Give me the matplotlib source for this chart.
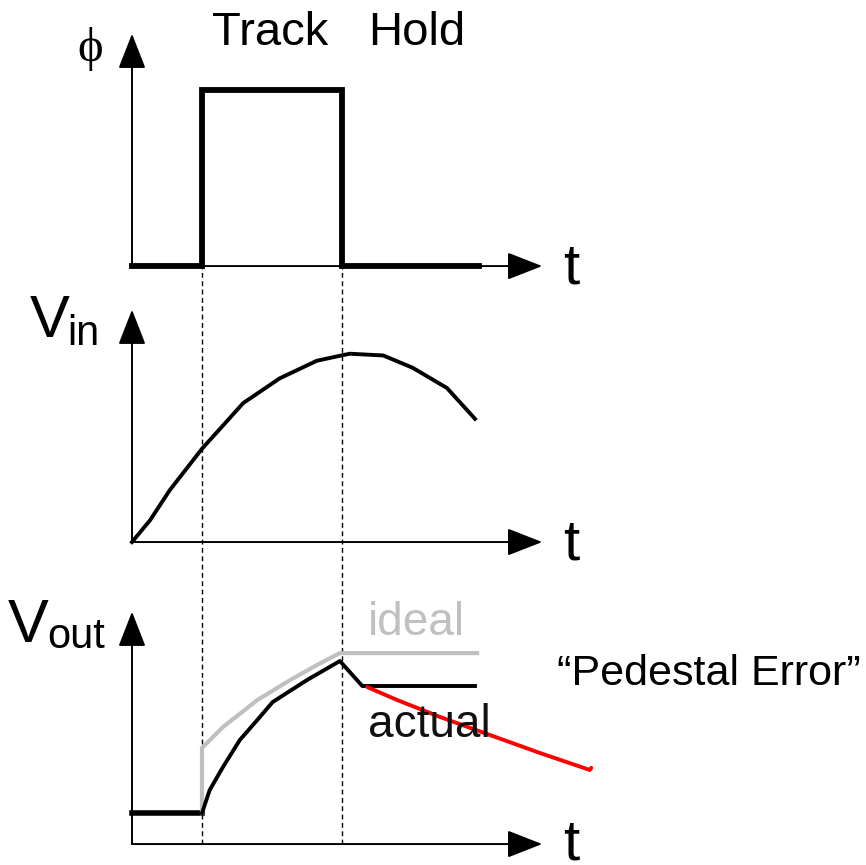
import matplotlib
matplotlib.use('Agg')
import matplotlib.pyplot as plt

plt.rcParams['font.family'] = ['Liberation Sans', 'DejaVu Sans']

# time axis: t=0 at the vertical axis, sampling switch closes at t=1 and opens at t=3
T_TRACK = 1.0
T_HOLD = 3.0
T_END = 5.86      # tip of the time arrows
V_TOP = 1.32      # tip of the value arrows

# clock phi
t_phi = [0, 1, 1, 3, 3, 4.96]
phi = [0, 0, 1, 1, 0, 0]

# input signal
t_vin = [0, 0.26, 0.54, 1.0, 1.59, 2.11, 2.64, 2.99, 3.11, 3.59, 4.01, 4.5, 4.9]
vin = [0, 0.125, 0.295, 0.53, 0.79, 0.93, 1.03, 1.06, 1.07, 1.06, 0.99, 0.875, 0.70]

# output, held value before tracking starts
t_start = [0, 1]
v_start = [0.176, 0.176]

# ideal output (gray)
t_ideal = [1, 1, 1.3, 1.79, 2.26, 2.64, 2.97, 4.93]
v_ideal = [0.176, 0.546, 0.665, 0.818, 0.932, 1.017, 1.085, 1.085]

# actual output (black) with the pedestal step
t_actual = [1, 1.11, 1.3, 1.54, 1.79, 2.01, 2.5, 2.97, 3.29, 4.9]
v_actual = [0.176, 0.307, 0.438, 0.591, 0.705, 0.807, 0.932, 1.04, 0.898, 0.898]

# red hand-drawn pointer
t_red = [3.36, 3.79, 4.4, 5.11, 5.83, 6.54, 6.56]
v_red = [0.892, 0.818, 0.722, 0.62, 0.517, 0.421, 0.433]

# vertical offsets of the three panels (phi, Vin, Vout)
base = [3.403, 1.835, 0.119]

fig = plt.figure(figsize=(8.66, 8.65), dpi=100)
ax = fig.add_axes([0, 0, 1, 1])
ax.set_xlim(-132 / 70, (866 - 132) / 70)
ax.set_ylim(0, 865 / 176)
ax.axis('off')

arrow = dict(arrowstyle='-|>,head_length=2.2,head_width=0.86', mutation_scale=10,
             lw=1.4, color='black', shrinkA=0, shrinkB=0)

for b in base:
    ax.annotate('', xy=(T_END, b), xytext=(0, b), arrowprops=arrow)
    ax.annotate('', xy=(0, b + V_TOP), xytext=(0, b), arrowprops=arrow)
    ax.text(6.157, max(b - 0.097, 0.03), 't', fontsize=42, ha='left', va='baseline')

# dashed guides at the switching instants
for tt in [T_TRACK, T_HOLD]:
    ax.plot([tt, tt], [base[2], base[0]], color='black', lw=1.0,
            linestyle=(0, (3.5, 2.5)))

# panel 1: clock
ax.plot(t_phi, [p + base[0] for p in phi], color='black', lw=4.2,
        solid_joinstyle='miter')
ax.text(1.143, 4.659, 'Track', fontsize=34, ha='left', va='baseline')
ax.text(3.371, 4.659, 'Hold', fontsize=34, ha='left', va='baseline')
ax.text(-0.6, 4.636, 'ϕ', fontsize=35, ha='center', va='center',
        family=['Liberation Serif', 'DejaVu Serif'])

# panel 2: input
ax.plot(t_vin, [v + base[1] for v in vin], color='black', lw=2.8)
ax.text(-1.457, 3.0, 'V', fontsize=43, ha='left', va='baseline')
ax.text(-0.929, 2.955, 'in', fontsize=30, ha='left', va='baseline')

# panel 3: output
ax.plot(t_start, [v + base[2] for v in v_start], color='black', lw=4.0)
ax.plot(t_ideal, [v + base[2] for v in v_ideal], color='#c0c0c0', lw=3.0)
ax.plot(t_actual, [v + base[2] for v in v_actual], color='black', lw=2.8)
ax.plot(t_red, [v + base[2] for v in v_red], color='#ff0000', lw=2.8,
        solid_capstyle='round')
ax.text(-1.771, 1.267, 'V', fontsize=44, ha='left', va='baseline')
ax.text(-1.214, 1.233, 'out', fontsize=30, ha='left', va='baseline')
ax.text(3.371, 1.307, 'ideal', fontsize=33, color='#c0c0c0', ha='left', va='baseline')
ax.text(3.371, 0.727, 'actual', fontsize=33, color='#111111', ha='left', va='baseline')
ax.text(6.071, 1.023, '\u201cPedestal Error\u201d', fontsize=31, ha='left', va='baseline')

fig.savefig('out.png', dpi=100)
